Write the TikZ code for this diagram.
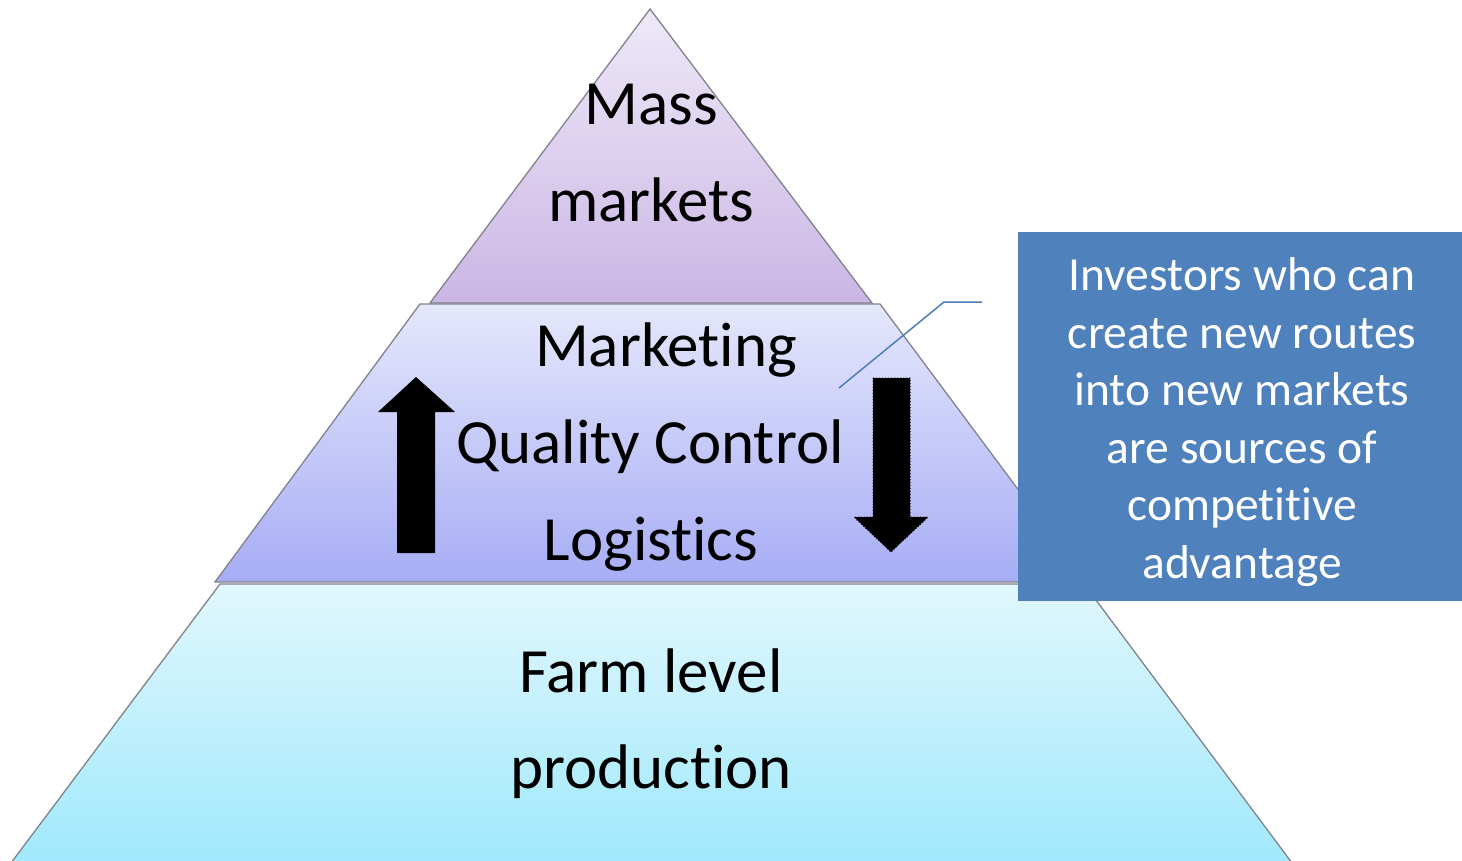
\documentclass[tikz,border=0pt]{standalone}
\usepackage{fontspec}
\setmainfont[Ligatures={NoCommon}]{Carlito}
\usetikzlibrary{positioning}
\usepackage{xcolor}
\definecolor{massTop}{RGB}{238,233,249}
\definecolor{massBot}{RGB}{203,182,228}
\definecolor{midTop}{RGB}{229,231,251}
\definecolor{midBot}{RGB}{167,173,245}
\definecolor{farmTop}{RGB}{225,247,253}
\definecolor{farmBot}{RGB}{157,232,252}
\definecolor{tierEdge}{RGB}{130,130,140}
\definecolor{boxBlue}{RGB}{79,129,189}
\definecolor{callBlue}{RGB}{74,126,187}
\tikzset{
	tier/.style={draw=tierEdge, line width=1.3pt},
	tiertext/.style={font=\fontsize{63}{97}\selectfont, text=black, anchor=base, inner sep=0pt},
	infobox/.style={fill=boxBlue, draw=none, minimum width=444pt, minimum height=369pt, inner sep=0pt},
	infotext/.style={font=\fontsize{47.5}{57.6}\selectfont, text=white, align=center, inner sep=0pt},
	callout/.style={draw=callBlue, line width=1.5pt},
}

\begin{document}
\begin{tikzpicture}[x=1pt,y=-1pt]
				\useasboundingbox (0,0) rectangle (1462,861);
				\shade[tier, top color=farmTop, bottom color=farmBot] (220,584) -- (1084,584) -- (1301,875) -- (2,875) -- cycle;
				\shade[tier, top color=midTop, bottom color=midBot] (420,304) -- (880,304) -- (1087,582) -- (215,582) -- cycle;
				\shade[tier, top color=massTop, bottom color=massBot] (650,9) -- (872,303) -- (430,303) -- cycle;
				\node[tiertext] (masstop) at (651,125) {Mass};
				\node[tiertext] (massbot) at (651,222) {markets};
				\node[tiertext] (mktline) at (666,366) {Marketing};
				\node[tiertext] (qcline) at (650,463) {Quality Control};
				\node[tiertext] (logline) at (651,560) {Logistics};
				\node[tiertext] (farmline) at (651,692) {Farm level};
				\node[tiertext] (prodline) at (651,788) {production};
				\fill[black] (397,553) -- (397,412) -- (378,412) -- (416,377) -- (455,412) -- (435,412) -- (435,553) -- cycle;
				\filldraw[black, dotted, line width=1pt] (873,378) -- (910,378) -- (910,517) -- (928,517) -- (891,552) -- (854,517) -- (873,517) -- cycle;
				\coordinate (calltip) at (839,388);
				\coordinate (callknee) at (944,302);
				\coordinate (callend) at (982,302);
				\draw[callout] (calltip) -- (callknee) -- (callend);
				\node[infobox] (investors) at (1240,416.5) {};
				\node[infotext] (investtxt) at (1242,422) {Investors who can\\create new routes\\into new markets\\are sources of\\competitive\\advantage};
\end{tikzpicture}
\end{document}
